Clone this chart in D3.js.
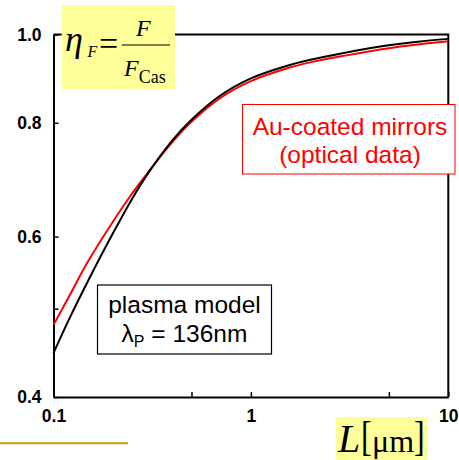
<!DOCTYPE html>
<html>
<head>
<meta charset="utf-8">
<script src="https://cdn.jsdelivr.net/npm/d3@7"></script>
<style>
  body { margin: 0; background: #fff; }
  svg { display: block; }
</style>
</head>
<body>
<div id="chart"></div>
<script>

// separation L in micrometres
const lengths = [0.1, 0.12, 0.15, 0.2, 0.25, 0.3, 0.4, 0.5, 0.7, 1, 1.5, 2, 3, 5, 7, 10];
// plasma model, lambda_P = 136 nm (black)
const plasmaEta = [0.447, 0.487, 0.537, 0.605, 0.660, 0.703, 0.765, 0.806, 0.857, 0.895, 0.923, 0.938, 0.955, 0.973, 0.982, 0.989];
// Au-coated mirrors, optical data (red)
const opticalEta = [0.480, 0.516, 0.564, 0.623, 0.669, 0.705, 0.762, 0.802, 0.852, 0.889, 0.917, 0.932, 0.948, 0.966, 0.975, 0.983];

const xTicks = [0.1, 0.5, 1, 5, 10];
const xLabels = [0.1, 1, 10];
const yTicks = [0.4, 0.5, 0.6, 0.8, 1.0];
const yLabels = [0.4, 0.6, 0.8, 1.0];

const W = 459, H = 460;
const plotLeft = 53.5, plotRight = 448.3, plotTop = 34.5, plotBottom = 397;

const svg = d3.select("#chart").append("svg")
    .attr("width", W)
    .attr("height", H);

const x = d3.scaleLog().domain([0.1, 10]).range([plotLeft, plotRight]);
const y = d3.scaleLog().domain([0.4, 1.0]).range([plotBottom, plotTop]);

// frame (top + right)
svg.append("path")
    .attr("d", `M${plotLeft},${plotTop}H${plotRight}V${plotBottom}`)
    .attr("fill", "none")
    .attr("stroke", "#000")
    .attr("stroke-width", 2);

// axes, ticks point inward
const xAxis = d3.axisBottom(x)
    .tickValues(xTicks)
    .tickSizeInner(-5)
    .tickSizeOuter(0)
    .tickPadding(13)
    .tickFormat(d => xLabels.includes(d) ? String(d) : "");

const yAxis = d3.axisLeft(y)
    .tickValues(yTicks)
    .tickSizeInner(-5)
    .tickSizeOuter(0)
    .tickPadding(12)
    .tickFormat(d => yLabels.includes(d) ? d3.format(".1f")(d) : "");

function styleAxis(g) {
    g.select(".domain").attr("stroke", "#000").attr("stroke-width", 2);
    g.selectAll(".tick line").attr("stroke", "#000").attr("stroke-width", 1.5);
    g.selectAll(".tick text")
        .attr("fill", "#000")
        .style("font-family", "'Liberation Sans', Arial, sans-serif")
        .style("font-weight", "bold")
        .style("font-size", "17.5px");
}

svg.append("g")
    .attr("transform", `translate(0,${plotBottom})`)
    .call(xAxis)
    .call(styleAxis);

svg.append("g")
    .attr("transform", `translate(${plotLeft},0)`)
    .call(yAxis)
    .call(styleAxis);

// curves
const line = d3.line()
    .x(d => x(d[0]))
    .y(d => y(d[1]))
    .curve(d3.curveCatmullRom.alpha(0.5));

svg.append("path")
    .datum(lengths.map((l, i) => [l, opticalEta[i]]))
    .attr("d", line)
    .attr("fill", "none")
    .attr("stroke", "#ff0000")
    .attr("stroke-width", 2);

svg.append("path")
    .datum(lengths.map((l, i) => [l, plasmaEta[i]]))
    .attr("d", line)
    .attr("fill", "none")
    .attr("stroke", "#000")
    .attr("stroke-width", 2);

// formula box eta_F = F / F_Cas
const serif = "'Liberation Serif', 'Times New Roman', serif";
const sans = "'Liberation Sans', Arial, sans-serif";

svg.append("rect")
    .attr("x", 61.7).attr("y", 5)
    .attr("width", 113.3).attr("height", 84.3)
    .attr("fill", "#ffff99");

const f = svg.append("g").style("font-family", serif).attr("fill", "#000");
const eta = f.append("text").attr("x", 65).attr("y", 51)
    .style("font-size", "36px").style("font-style", "italic");
eta.append("tspan").text("η");
eta.append("tspan").attr("x", 87.5).attr("dy", 6).style("font-size", "16px").text("F");
f.append("text").attr("x", 99).attr("y", 54.5)
    .style("font-size", "34px").text("=");
f.append("line")
    .attr("x1", 121.7).attr("x2", 170)
    .attr("y1", 45).attr("y2", 45)
    .attr("stroke", "#000").attr("stroke-width", 1.2);
f.append("text").attr("x", 136).attr("y", 35.7)
    .style("font-size", "24px").style("font-style", "italic").text("F");
const den = f.append("text").attr("x", 124).attr("y", 76)
    .style("font-size", "24px");
den.append("tspan").style("font-style", "italic").text("F");
den.append("tspan").attr("dy", 7.3).style("font-size", "18px").text("Cas");

// Au-coated mirrors legend box
svg.append("rect")
    .attr("x", 242.5).attr("y", 104.5)
    .attr("width", 212.5).attr("height", 69.5)
    .attr("fill", "#fff")
    .attr("stroke", "#ff0000")
    .attr("stroke-width", 1);

svg.append("text")
    .attr("x", 350).attr("y", 135)
    .attr("text-anchor", "middle")
    .attr("fill", "#ff0000")
    .style("font-family", sans).style("font-size", "24.5px")
    .text("Au-coated mirrors");
svg.append("text")
    .attr("x", 350).attr("y", 163.3)
    .attr("text-anchor", "middle")
    .attr("fill", "#ff0000")
    .style("font-family", sans).style("font-size", "24.5px")
    .text("(optical data)");

// plasma model box
svg.append("rect")
    .attr("x", 97.5).attr("y", 285)
    .attr("width", 174).attr("height", 69)
    .attr("fill", "#fff")
    .attr("stroke", "#000")
    .attr("stroke-width", 1.2);

svg.append("text")
    .attr("x", 184.5).attr("y", 313.3)
    .attr("text-anchor", "middle")
    .attr("fill", "#000")
    .style("font-family", sans).style("font-size", "24.5px")
    .text("plasma model");

const lam = svg.append("text")
    .attr("x", 184.5).attr("y", 341.7)
    .attr("text-anchor", "middle")
    .attr("fill", "#000")
    .style("font-family", sans).style("font-size", "24.5px");
lam.append("tspan").text("λ");
lam.append("tspan").attr("dy", 5).style("font-size", "16px").text("P");
lam.append("tspan").attr("dy", -5).text(" = 136nm");

// x-axis title L[μm]
svg.append("rect")
    .attr("x", 336).attr("y", 417)
    .attr("width", 92).attr("height", 43)
    .attr("fill", "#ffff99");

const t = svg.append("g").attr("fill", "#000").style("font-family", serif);
t.append("text").attr("x", 338).attr("y", 451.7)
    .style("font-size", "40px").style("font-style", "italic").text("L");
t.append("text").attr("transform", "translate(361,449.5) scale(1,1.35)")
    .style("font-size", "32px").text("[");
t.append("text").attr("x", 372).attr("y", 451.7)
    .style("font-size", "32px").text("μm");
t.append("text").attr("transform", "translate(414,449.5) scale(1,1.35)")
    .style("font-size", "32px").text("]");

// gold rule lower left
svg.append("line")
    .attr("x1", 0).attr("x2", 128)
    .attr("y1", 443.3).attr("y2", 443.3)
    .attr("stroke", "#cc9900")
    .attr("stroke-width", 2);

</script>
</body>
</html>
